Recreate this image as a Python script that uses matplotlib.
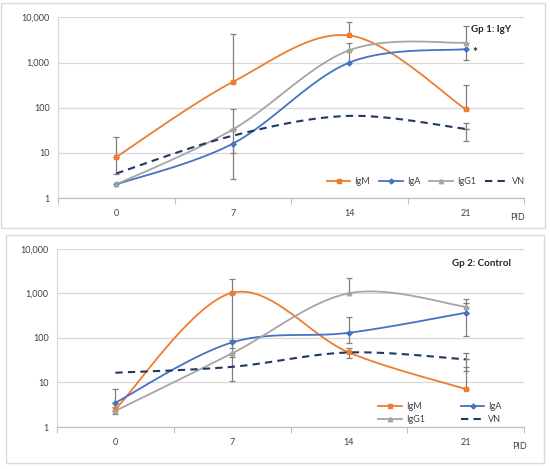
import numpy as np
import matplotlib
matplotlib.use("Agg")
import matplotlib.pyplot as plt
from matplotlib.lines import Line2D
from matplotlib.patches import Rectangle

plt.rcParams["font.family"] = ["Lato", "DejaVu Sans"]

PID_LABELS = ["0", "7", "14", "21"]
Y_TICKS = [1, 10, 100, 1000, 10000]
Y_TICK_LABELS = ["1", "10", "100", "1,000", "10,000"]

# Gp 1: IgY
g1_igm = [8.1, 373, 4000, 93]
g1_igm_lo = [3.4, np.nan, np.nan, np.nan]
g1_igm_hi = [23, 4350, 7800, 320]
g1_iga = [2.0, 16, 1000, 2000]
g1_iga_lo = [np.nan, 2.7, np.nan, 1120]
g1_iga_hi = [np.nan, np.nan, np.nan, np.nan]
g1_igg1 = [2.0, 33, 1880, 2770]
g1_igg1_lo = [np.nan, 10, 1000, np.nan]
g1_igg1_hi = [np.nan, 94, 2770, 6600]
g1_vn = [3.5, 24, 66, 34]
g1_vn_lo = [np.nan, np.nan, np.nan, 18.7]
g1_vn_hi = [np.nan, np.nan, np.nan, 47]

# Gp 2: Control
g2_igm = [2.5, 1025, 47, 7.1]
g2_igm_lo = [np.nan, 10.7, 35, np.nan]
g2_igm_hi = [np.nan, 2090, np.nan, 22]
g2_iga = [3.5, 79, 130, 365]
g2_iga_lo = [1.96, 60, 75, 110]
g2_iga_hi = [7, 90, 290, 615]
g2_igg1 = [2.3, 45, 1000, 500]
g2_igg1_lo = [np.nan, 38, np.nan, np.nan]
g2_igg1_hi = [2.8, np.nan, 2150, 730]
g2_vn = [16.5, 22.4, 47, 33]
g2_vn_lo = [np.nan, np.nan, np.nan, 18]
g2_vn_hi = [np.nan, np.nan, 58, 46]

C_IGM = "#ED7D31"
C_IGA = "#4472C4"
C_IGG1 = "#A5A5A5"
C_VN = "#1F3864"
C_ERR = "#7F7F7F"
C_GRID = "#D9D9D9"


def smooth(vals, n=40):
    # excel-like smoothed line: catmull-rom as bezier, done in (index, log10) space
    x = np.arange(len(vals), dtype=float)
    y = np.log10(np.asarray(vals, dtype=float))
    pts = np.column_stack([x, y])
    ext = np.vstack([pts[0], pts, pts[-1]])
    out = []
    t = np.linspace(0, 1, n)[:, None]
    for i in range(len(pts) - 1):
        p0, p1, p2, p3 = ext[i], ext[i + 1], ext[i + 2], ext[i + 3]
        c1 = p1 + (p2 - p0) / 6
        c2 = p2 - (p3 - p1) / 6
        seg = ((1 - t) ** 3) * p1 + 3 * ((1 - t) ** 2) * t * c1 + 3 * (1 - t) * t ** 2 * c2 + t ** 3 * p2
        out.append(seg if i == 0 else seg[1:])
    out = np.vstack(out)
    return out[:, 0], 10 ** out[:, 1]


def draw_panel(ax, series, legend_cols, legend_anchor):
    x = np.arange(4)
    for vals, lo, hi in series:
        vals = np.asarray(vals, float)
        lo = np.asarray(lo, float)
        hi = np.asarray(hi, float)
        for xi, v, l, h in zip(x, vals, lo, hi):
            if not np.isnan(l):
                ax.errorbar([xi], [v], yerr=[[v - l], [0]], fmt="none", ecolor=C_ERR,
                            elinewidth=0.9, capsize=2.5, capthick=0.9, zorder=2)
            if not np.isnan(h):
                ax.errorbar([xi], [v], yerr=[[0], [h - v]], fmt="none", ecolor=C_ERR,
                            elinewidth=0.9, capsize=2.5, capthick=0.9, zorder=2)

    styles = [
        ("IgM", C_IGM, "s", "-", 3.5),
        ("IgA", C_IGA, "D", "-", 2.5),
        ("IgG1", C_IGG1, "^", "-", 3.2),
        ("VN", C_VN, None, (0, (3.5, 2.5)), 0),
    ]
    handles = []
    for (vals, _, _), (name, col, mk, ls, ms) in zip(series, styles):
        sx, sy = smooth(vals)
        lw = 1.3 if name != "VN" else 1.5
        ax.plot(sx, sy, color=col, lw=lw, ls=ls, zorder=3)
        if mk:
            ax.plot(x, vals, ls="none", marker=mk, ms=ms, color=col, zorder=4)
        handles.append(Line2D([], [], color=col, lw=lw, ls=ls, marker=mk, ms=ms, label=name))

    ax.set_yscale("log")
    ax.set_ylim(1, 10000)
    ax.set_xlim(-0.5, 3.5)
    ax.set_yticks(Y_TICKS)
    ax.set_yticklabels(Y_TICK_LABELS)
    ax.yaxis.set_minor_locator(matplotlib.ticker.NullLocator())
    ax.set_xticks(x)
    ax.set_xticklabels(PID_LABELS)
    ax.set_xticks(np.arange(-0.5, 4, 1.0), minor=True)
    ax.tick_params(axis="x", which="major", length=0, pad=8, labelsize=6.5, colors="#404040")
    ax.tick_params(axis="x", which="minor", length=4, color="#BFBFBF", width=0.8, direction="out")
    ax.tick_params(axis="y", length=0, pad=6, labelsize=6.5, colors="#404040")
    ax.grid(True, axis="y", which="major", color=C_GRID, lw=0.9)
    for side in ["top", "right"]:
        ax.spines[side].set_visible(False)
    ax.spines["left"].set_color(C_GRID)
    ax.spines["bottom"].set_color("#BFBFBF")
    ax.spines["left"].set_linewidth(0.9)
    ax.spines["bottom"].set_linewidth(0.9)

    colsp = 1.0
    if legend_cols == 2:
        # row-wise order like the original
        handles = [handles[0], handles[2], handles[1], handles[3]]
        colsp = 4.0
    ax.legend(handles=handles, ncol=legend_cols, loc="center", bbox_to_anchor=legend_anchor,
              frameon=False, fontsize=6.5, handlelength=2.6, handletextpad=0.45,
              columnspacing=colsp, labelspacing=0.45, numpoints=1, labelcolor="#404040")
    return ax


fig = plt.figure(figsize=(5.5, 4.69), dpi=100)
W, H = 550, 469


def fx(px):
    return px / W


def fy(py):
    return 1 - py / H


# panel frames
fig.add_artist(Rectangle((fx(1), fy(228)), fx(544), (228 - 3) / H, transform=fig.transFigure,
                         fill=False, ec=C_GRID, lw=1.0))
fig.add_artist(Rectangle((fx(6), fy(463)), fx(538), (463 - 235) / H, transform=fig.transFigure,
                         fill=False, ec=C_GRID, lw=1.0))

ax1 = fig.add_axes([fx(58), fy(198), fx(524 - 58), (198 - 17.5) / H])
draw_panel(ax1,
           [(g1_igm, g1_igm_lo, g1_igm_hi), (g1_iga, g1_iga_lo, g1_iga_hi),
            (g1_igg1, g1_igg1_lo, g1_igg1_hi), (g1_vn, g1_vn_lo, g1_vn_hi)],
           4, (0.79, 0.09))
ax1.annotate("*", (3, g1_iga[3]), xytext=(5, -2.5), textcoords="offset points",
             fontsize=8.5, fontweight="bold", color="#262626", va="center", ha="left")

ax2 = fig.add_axes([fx(57), fy(427), fx(524 - 57), (427 - 248.7) / H])
draw_panel(ax2,
           [(g2_igm, g2_igm_lo, g2_igm_hi), (g2_iga, g2_iga_lo, g2_iga_hi),
            (g2_igg1, g2_igg1_lo, g2_igg1_hi), (g2_vn, g2_vn_lo, g2_vn_hi)],
           2, (0.82, 0.08))

fig.text(fx(471), fy(29), "Gp 1: IgY", fontsize=7, fontweight="bold", color="#262626",
         ha="left", va="center")
fig.text(fx(452), fy(263), "Gp 2: Control", fontsize=7, fontweight="bold", color="#262626",
         ha="left", va="center")
fig.text(fx(510), fy(218), "PID", fontsize=6.5, color="#404040", ha="left", va="center")
fig.text(fx(512), fy(446), "PID", fontsize=6.5, color="#404040", ha="left", va="center")

fig.savefig("out.png", dpi=100)
